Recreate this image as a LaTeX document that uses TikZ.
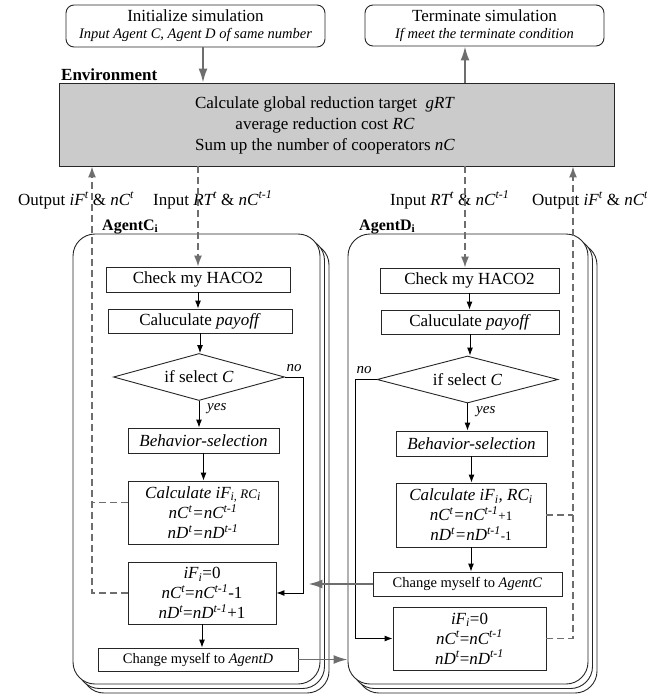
\documentclass[tikz,border=0pt]{standalone}
\usepackage{fontspec}
\setmainfont{Liberation Serif}
\usetikzlibrary{arrows.meta,shapes.geometric,shadows}

\definecolor{gline}{HTML}{6E6E6E}
\definecolor{envgray}{HTML}{CBCBCB}

\tikzset{
  box/.style={draw=black!85, fill=white, inner sep=0pt, align=center, line width=0.9pt},
  agent/.style={draw=black!85, fill=white, rounded corners=22pt, line width=0.9pt,
    double copy shadow={shadow xshift=4.5pt, shadow yshift=-4.5pt}},
  decision/.style={diamond, draw=black!85, fill=white, inner sep=0pt, aspect=3.6, line width=0.9pt},
  flow/.style={-{Latex[length=8pt,width=6pt]}, line width=0.9pt},
  garrow/.style={draw=gline, -{Latex[length=14pt,width=9pt]}, line width=1.8pt},
  gdash/.style={draw=gline, dash pattern=on 7pt off 4pt, line width=1.5pt},
  gdarrow/.style={gdash, -{Latex[length=11pt,width=8pt]}},
  note/.style={font=\fontsize{15}{18}\selectfont\itshape, inner sep=1pt},
  agentlab/.style={font=\fontsize{16}{19}\selectfont\bfseries, anchor=base west, inner sep=0pt},
}

\begin{document}
\begin{tikzpicture}[x=1pt, y=-1pt, font=\fontsize{17}{20}\selectfont]
\useasboundingbox (0,0) rectangle (647,696);

% simulation start / end
\node[box, rounded corners=8pt, minimum width=259pt, minimum height=42pt] (init) at (195.5,26)
  {Initialize simulation\\[-3pt]{\fontsize{14.5}{16}\selectfont\itshape Input Agent C, Agent D of same number}};
\node[box, rounded corners=8pt, minimum width=239pt, minimum height=41pt] (term) at (484.5,25.5)
  {Terminate simulation\\[-3pt]{\fontsize{14.5}{16}\selectfont\itshape If meet the terminate condition}};

% environment
\node[box, fill=envgray, minimum width=555pt, minimum height=83pt] (env) at (336.5,124.5) {};
\node[align=center, font=\fontsize{17}{21}\selectfont] (envtxt) at (325,125)
  {Calculate global reduction target~~\textit{gRT}\\ average reduction cost \textit{RC}\\ Sum up the number of cooperators \textit{nC}};
\node[font=\fontsize{17}{20}\selectfont\bfseries, anchor=base west, inner sep=0pt] (envlab) at (61,80) {Environment};

\coordinate (cOut) at (92,0);
\coordinate (cIn) at (198,0);
\coordinate (dIn) at (465,0);
\coordinate (dOut) at (573,0);

\node[anchor=base west, inner sep=0pt] (outC) at (18,205) {Output \textit{iF\textsuperscript{t}} \& \textit{nC\textsuperscript{t}}};
\node[anchor=base west, inner sep=0pt] (inC) at (153,205) {Input \textit{RT\textsuperscript{t}} \& \textit{nC\textsuperscript{t-1}}};
\node[anchor=base west, inner sep=0pt] (inD) at (390,205) {Input \textit{RT\textsuperscript{t}} \& \textit{nC\textsuperscript{t-1}}};
\node[anchor=base west, inner sep=0pt] (outD) at (532,205) {Output \textit{iF\textsuperscript{t}} \& \textit{nC\textsuperscript{t}}};

% agents
\node[agent, minimum width=247pt, minimum height=450pt] (agC) at (196.5,459) {};
\node[agent, minimum width=240pt, minimum height=450pt] (agD) at (468,459) {};
\node[agentlab] (labC) at (102,230) {AgentC\textsubscript{i}};
\node[agentlab] (labD) at (359,230) {AgentD\textsubscript{i}};

% agent C
\node[box, minimum width=184pt, minimum height=25pt] (chkC) at (198,279.5) {Check my HACO2};
\node[box, minimum width=184pt, minimum height=24pt] (payC) at (200,321) {Caluculate \textit{payoff}};
\node[decision, minimum width=171pt, minimum height=47pt] (decC) at (199,377) {if select \textit{C}};
\node[box, minimum width=151pt, minimum height=25pt] (behC) at (203.5,440.5) {\textit{Behavior-selection}};
\node[box, minimum width=150pt, minimum height=63pt, font=\fontsize{17}{20}\selectfont\itshape] (calC) at (203,512.5)
  {Calculate iF\textsubscript{i, }{\fontsize{13}{15}\selectfont RC}\textsubscript{i}\\ nC\textsuperscript{t}=nC\textsuperscript{t-1}\\ nD\textsuperscript{t}=nD\textsuperscript{t-1}};
\node[box, minimum width=148pt, minimum height=62pt] (zerC) at (202,593)
  {\textit{iF\textsubscript{i}}=0\\ \textit{nC\textsuperscript{t}}=\textit{nC\textsuperscript{t-1}}-1\\ \textit{nD\textsuperscript{t}}=\textit{nD\textsuperscript{t-1}}+1};
\node[box, minimum width=200pt, minimum height=23pt, font=\fontsize{14.5}{17}\selectfont] (chgC) at (198,659.5) {Change myself to \textit{AgentD}};
\node[note] (noC) at (294,368) {no};
\node[note, anchor=west] (yesC) at (206,409) {yes};

\draw[flow] (chkC.south) -- (chkC.south |- payC.north);
\draw[flow] (payC.south) -- (payC.south |- decC.north);
\draw[flow] (decC.south) -- (decC.south |- behC.north);
\draw[flow] (behC.south) -- (behC.south |- calC.north);
\draw[flow] (zerC.south) -- (zerC.south |- chgC.north);
\draw[flow] (decC.east) -- ++(18,0) |- (zerC.east);

% agent D
\node[box, minimum width=179pt, minimum height=25pt] (chkD) at (469.5,280.5) {Check my HACO2};
\node[box, minimum width=178pt, minimum height=24pt] (payD) at (470,322) {Caluculate \textit{payoff}};
\node[decision, minimum width=181pt, minimum height=47pt] (decD) at (467.5,379.5) {if select \textit{C}};
\node[box, minimum width=151pt, minimum height=25pt] (behD) at (471.5,443.5) {\textit{Behavior-selection}};
\node[box, minimum width=150pt, minimum height=64pt, font=\fontsize{17}{20}\selectfont\itshape] (calD) at (471,515)
  {Calculate iF\textsubscript{i}, RC\textsubscript{i}\\ nC\textsuperscript{t}=nC\textsuperscript{t-1}{\fontsize{13}{15}\selectfont\upshape +1}\\ nD\textsuperscript{t}=nD\textsuperscript{t-1}{\fontsize{13}{15}\selectfont\upshape -1}};
\node[box, minimum width=189pt, minimum height=24pt, font=\fontsize{14.5}{17}\selectfont] (chgD) at (467.5,584) {Change myself to \textit{AgentC}};
\node[box, minimum width=153pt, minimum height=63pt] (zerD) at (469.5,638.5)
  {\textit{iF\textsubscript{i}}=0\\ \textit{nC\textsuperscript{t}}=\textit{nC\textsuperscript{t-1}}\\ \textit{nD\textsuperscript{t}}=\textit{nD\textsuperscript{t-1}}};
\node[note] (noD) at (364,370) {no};
\node[note, anchor=west] (yesD) at (475,412) {yes};

\draw[flow] (chkD.south) -- (chkD.south |- payD.north);
\draw[flow] (payD.south) -- (payD.south |- decD.north);
\draw[flow] (decD.south) -- (decD.south |- behD.north);
\draw[flow] (behD.south) -- (behD.south |- calD.north);
\draw[flow] (calD.south) -- (calD.south |- chgD.north);
\draw[flow] (decD.west) -- ++(-21,0) |- (zerD.west);

% messages between environment and agents
\draw[garrow] ([xshift=7.5pt]init.south) -- ([xshift=7.5pt]init.south |- env.north);
\draw[garrow] (env.north -| dIn) -- (term.south -| dIn);
\draw[gdarrow] (env.south -| cIn) -- (chkC.north);
\draw[gdarrow] (env.south -| dIn) -- (chkD.north -| dIn);
\draw[gdarrow] (zerC.west) -| (env.south -| cOut);
\draw[gdash] ([yshift=10pt]calC.west) -- ([yshift=10pt]calC.west -| cOut);
\draw[gdarrow] (zerD.east) -| (env.south -| dOut);
\draw[gdash] (calD.east) -- (calD.east -| dOut);
\draw[garrow] (chgD.west) -- ([xshift=-12pt]chgD.west -| agC.east);
\draw[garrow] (chgC.east) -- (chgC.east -| agD.west);
\end{tikzpicture}
\end{document}
